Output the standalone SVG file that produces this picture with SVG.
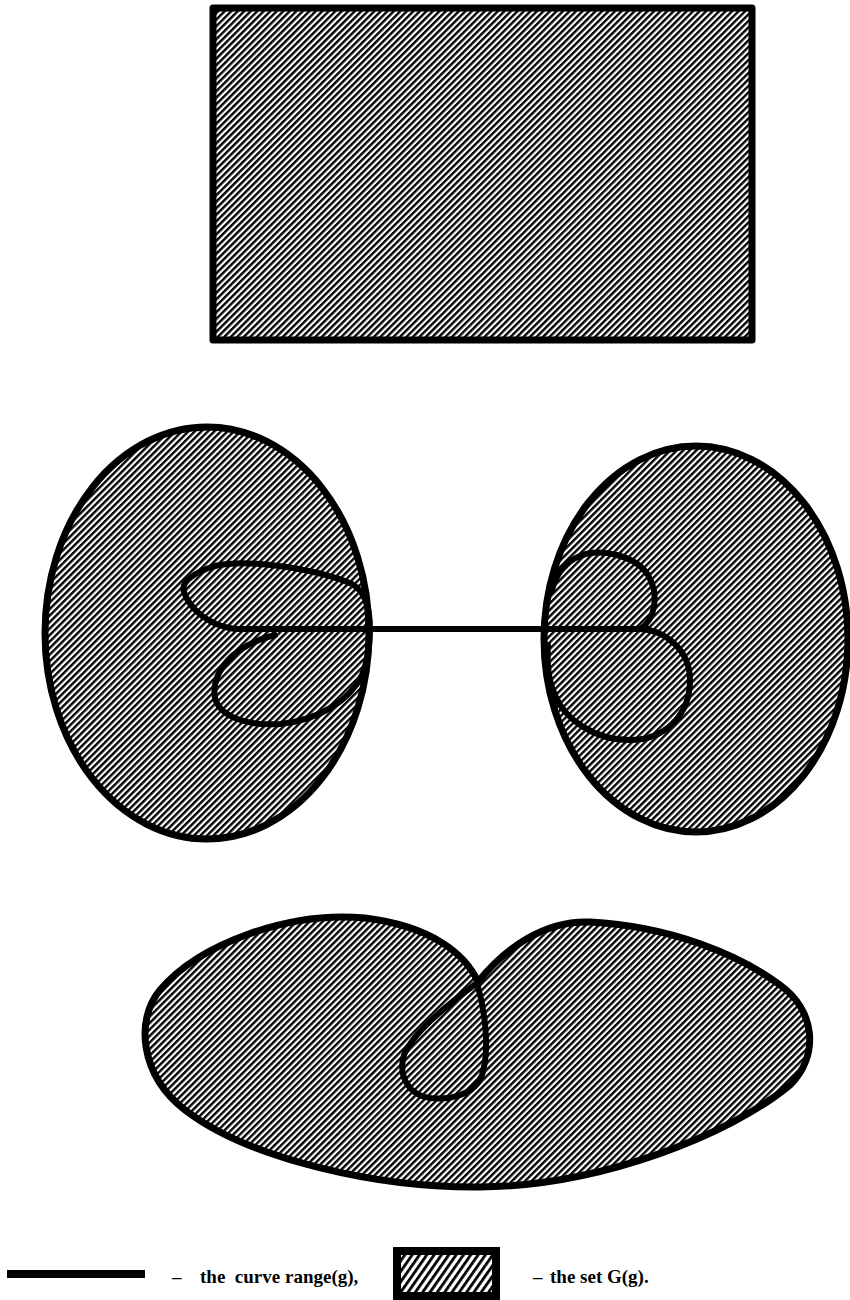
<svg xmlns="http://www.w3.org/2000/svg" width="850" height="1300" viewBox="0 0 850 1300">
  <defs>
    <pattern id="hatch" patternUnits="userSpaceOnUse" width="4.6" height="4.6" patternTransform="rotate(-45)">
      <rect x="0" y="0" width="4.6" height="4.6" fill="#fff"/>
      <rect x="0" y="0" width="4.6" height="2.4" fill="#000"/>
    </pattern>
    <pattern id="hatch2" patternUnits="userSpaceOnUse" width="6" height="6" patternTransform="rotate(-55)">
      <rect x="0" y="0" width="6" height="6" fill="#fff"/>
      <rect x="0" y="0" width="6" height="2.8" fill="#000"/>
    </pattern>
  </defs>
  <style>
    .set { fill: url(#hatch); stroke: #000; stroke-width: 7; stroke-linejoin: round; }
    .curve { fill: none; stroke: #000; stroke-width: 6; stroke-linecap: round; stroke-linejoin: round; }
    .lbl { font-family: "Liberation Serif", "Times New Roman", serif; font-size: 19px; font-weight: bold; fill: #000; }
  </style>
  <rect width="850" height="1300" fill="#fff"/>

  <g id="rect-set">
    <rect class="set" x="213" y="8" width="539" height="332" stroke-width="8" stroke-linejoin="miter"/>
  </g>

  <g id="left-set">
    <ellipse class="set" cx="207" cy="633" rx="162" ry="206"/>
  </g>

  <g id="right-set">
    <ellipse class="set" cx="696" cy="639" rx="152" ry="193"/>
  </g>

  <g id="bottom-set">
    <path class="set" d="M 478 982 C 465 953, 430 926, 365 918 C 290 911, 200 943, 160 990 C 135 1020, 140 1075, 185 1110 C 250 1160, 380 1188, 480 1187 C 600 1186, 730 1135, 790 1085 C 820 1055, 815 1010, 780 985 C 740 955, 670 926, 590 922 C 545 920, 505 948, 478 982 Z"/>
  </g>

  <g id="connectors">
    <path class="curve" d="M 235 629 L 648 629"/>
    <path class="curve" d="M 370 629 L 235 629 C 210 626, 190 610, 184 592 C 180 582, 195 572, 215 566 C 250 558, 320 570, 352 584 C 366 592, 370 610, 370 629"/>
    <path class="curve" d="M 275 635 C 262 638, 250 643, 240 650 C 222 662, 212 680, 215 698 C 220 718, 250 726, 280 724 C 320 720, 350 700, 362 675 C 368 660, 370 645, 370 629"/>
    <path class="curve" d="M 640 629 C 655 620, 660 595, 648 575 C 635 555, 600 548, 580 556 C 565 562, 556 575, 552 590"/>
    <path class="curve" d="M 640 629 C 665 630, 690 650, 690 680 C 690 715, 665 740, 630 740 C 595 740, 565 720, 555 695 C 548 680, 547 660, 548 645"/>
    <path class="curve" d="M 477 983 C 485 1010, 490 1050, 482 1075 C 475 1095, 450 1100, 430 1098 C 408 1095, 398 1075, 404 1055 C 412 1035, 440 1010, 477 983"/>
  </g>

  <g id="legend">
    <rect x="7" y="1270" width="138" height="8" fill="#000"/>
    <text class="lbl" x="172" y="1283">–</text>
    <text class="lbl" x="200" y="1283" xml:space="preserve">the  curve range(g),</text>
    <rect x="397" y="1251" width="99" height="45" fill="url(#hatch2)" stroke="#000" stroke-width="8"/>
    <text class="lbl" x="533" y="1283">–</text>
    <text class="lbl" x="550" y="1283">the set G(g).</text>
  </g>
</svg>
